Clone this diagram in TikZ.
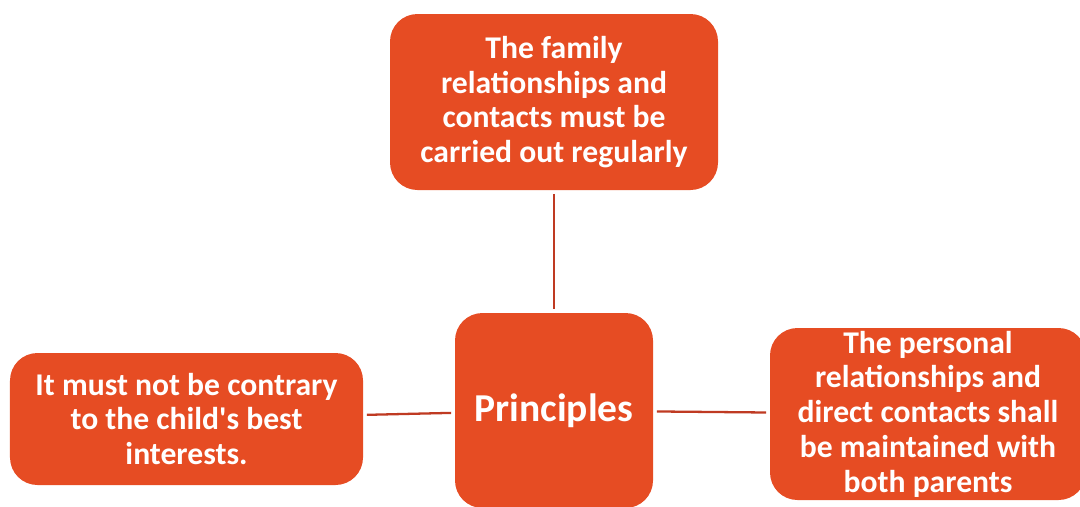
\documentclass[tikz,border=0pt]{standalone}
\usepackage{fontspec}
\setmainfont{Carlito}
\usepackage{tikz}
\usetikzlibrary{positioning}
\definecolor{boxfill}{HTML}{E64C23}
\definecolor{linkred}{HTML}{BF3A22}
\tikzset{
  ideabox/.style={rectangle,rounded corners=0.55cm,fill=boxfill,text=white,
    align=center,inner sep=0pt,font=\bfseries\fontsize{18}{19.8}\selectfont},
  hubbox/.style={ideabox,font=\bfseries\fontsize{22.5}{26}\selectfont},
  link/.style={draw=linkred,line width=1.3pt,shorten <=2pt,shorten >=2pt}
}
\begin{document}
\begin{tikzpicture}
            \useasboundingbox (0,0) rectangle (21.6,10.12);
            \node[hubbox,minimum width=3.96cm,minimum height=3.9cm] (hub) at (11.08,1.91) {Principles};
            \node[ideabox,minimum width=6.56cm,minimum height=3.52cm] (family) at (11.08,8.08)
                {The family\\relationships and\\contacts must be\\carried out regularly};
            \node[ideabox,minimum width=7.06cm,minimum height=2.64cm] (interest) at (3.73,1.74)
                {It must not be contrary\\to the child\textquotesingle s best\\interests.};
            \node[ideabox,minimum width=6.32cm,minimum height=3.44cm] (parents) at (18.56,1.84)
                {The personal\\relationships and\\direct contacts shall\\be maintained with\\both parents};
            \draw[link] (family) -- (hub);
            \draw[link] (hub) -- (interest);
            \draw[link] (hub) -- (parents);
        \end{tikzpicture}
\end{document}
